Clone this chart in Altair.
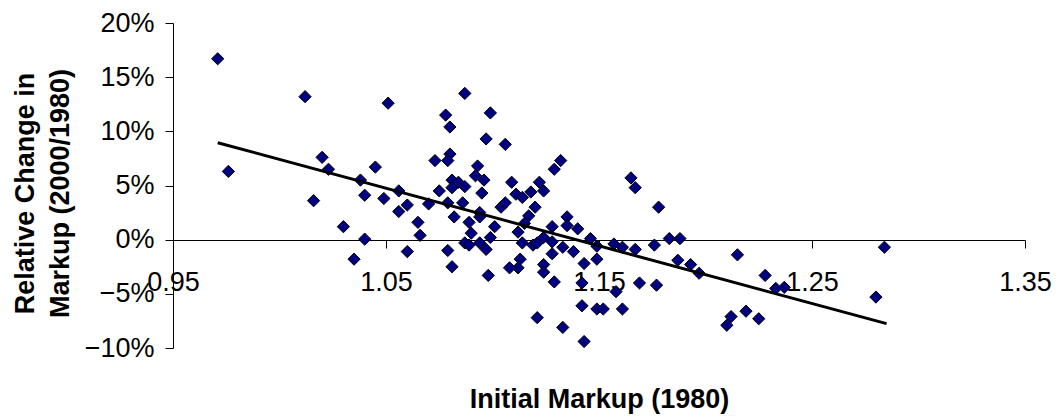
import altair as alt
import pandas as pd

# Initial markup (1980)
markup_1980 = [
    0.971, 0.976, 1.012, 1.020, 1.023, 1.016, 1.030, 1.035, 1.040, 1.040,
    1.038, 1.045, 1.049, 1.051, 1.056, 1.056, 1.060, 1.060, 1.065, 1.066,
    1.073, 1.080, 1.079, 1.075, 1.070, 1.079, 1.082, 1.081, 1.084, 1.081,
    1.087, 1.093, 1.092, 1.096, 1.095, 1.086, 1.079, 1.081, 1.089, 1.090,
    1.094, 1.094, 1.087, 1.089, 1.094, 1.097, 1.099, 1.101, 1.098, 1.104,
    1.106, 1.109, 1.111, 1.114, 1.118, 1.122, 1.124, 1.120, 1.117, 1.115,
    1.112, 1.114, 1.119, 1.121, 1.113, 1.112, 1.108, 1.124, 1.128, 1.128,
    1.129, 1.132, 1.135, 1.135, 1.140, 1.133, 1.128, 1.138, 1.124, 1.124,
    1.129, 1.143, 1.142, 1.142, 1.121, 1.133, 1.143, 1.146, 1.165, 1.167,
    1.178, 1.149, 1.157, 1.161, 1.167, 1.176, 1.183, 1.188, 1.187, 1.193,
    1.197, 1.149, 1.169, 1.177, 1.158, 1.149, 1.152, 1.161, 1.215, 1.228,
    1.233, 1.237, 1.212, 1.210, 1.219, 1.225, 1.284, 1.280, 1.099, 1.087,
    1.078, 1.080, 1.097, 1.106,
]

# Relative change in markup (2000/1980)
change_markup = [
    0.167, 0.063, 0.132, 0.076, 0.065, 0.036, 0.012, -0.018, 0.0005, 0.041,
    0.055, 0.067, 0.038, 0.126, 0.045, 0.026, 0.032, -0.011, 0.016, 0.004,
    0.073, 0.079, 0.073, 0.045, 0.033, 0.034, 0.021, 0.055, 0.053, 0.048,
    0.049, 0.068, 0.059, 0.055, 0.043, 0.034, -0.010, -0.025, 0.016, 0.006,
    0.021, 0.025, -0.003, -0.005, -0.003, -0.009, 0.002, 0.012, -0.033, 0.030,
    0.034, 0.053, 0.042, 0.039, 0.044, 0.053, 0.045, 0.030, 0.022, 0.015,
    0.007, -0.003, -0.005, -0.003, -0.018, -0.026, -0.026, 0.002, 0.012, -0.002,
    0.065, 0.073, 0.021, 0.013, 0.010, -0.007, -0.013, -0.011, -0.023, -0.030,
    -0.039, -0.022, -0.040, -0.061, -0.072, -0.081, -0.094, 0.001, 0.057, 0.048,
    0.030, -0.006, -0.004, -0.007, -0.009, -0.005, 0.001, 0.001, -0.019, -0.023,
    -0.031, -0.018, -0.040, -0.042, -0.048, -0.064, -0.064, -0.064, -0.014, -0.033,
    -0.045, -0.044, -0.071, -0.079, -0.066, -0.073, -0.007, -0.053, 0.117, 0.135,
    0.115, 0.104, 0.093, 0.088,
]

# Trend line end points
trend_x = [0.971, 1.285]
trend_y = [0.0895, -0.0775]

x_ticks = [0.95, 1.05, 1.15, 1.25, 1.35]
y_ticks = [-0.10, -0.05, 0.0, 0.05, 0.10, 0.15, 0.20]

pts = pd.DataFrame({"x": markup_1980, "y": change_markup})
trend = pd.DataFrame({"x": trend_x, "y": trend_y})

FONT = "Liberation Sans"

x_scale = alt.Scale(domain=[0.95, 1.35], nice=False, zero=False)
y_scale = alt.Scale(domain=[-0.10, 0.20], nice=False, zero=False)

x_axis = alt.Axis(
    values=x_ticks, format=".2f", title="Initial Markup (1980)",
    offset=-108, grid=False, domainColor="black", tickColor="black",
    tickSize=8, labelFontSize=27, labelFont=FONT, labelColor="black",
    labelBaseline="alphabetic", labelPadding=42, labelFlush=False,
    labelOverlap=False,
    titleFont=FONT, titleFontSize=27, titleFontWeight="bold",
    titleColor="black", titleBaseline="alphabetic", titleY=167,
)
y_axis = alt.Axis(
    values=y_ticks, format=".0%", title=["Relative Change in", "Markup (2000/1980)"],
    grid=False, domainColor="black", tickColor="black", tickSize=8,
    labelFontSize=27, labelFont=FONT, labelColor="black", labelPadding=11,
    labelFlush=False, labelOverlap=False,
    titleFont=FONT, titleFontSize=27, titleFontWeight="bold", titleColor="black",
    titleAngle=270, titleAlign="center", titleBaseline="middle",
    titleLineHeight=35, titleX=-148, titleY=170,
)

points = alt.Chart(pts).mark_point(
    shape="diamond", filled=True, fill="#000080", stroke="black",
    strokeWidth=1, size=150, opacity=1,
).encode(
    x=alt.X("x:Q", scale=x_scale, axis=x_axis),
    y=alt.Y("y:Q", scale=y_scale, axis=y_axis),
)

line = alt.Chart(trend).mark_line(color="black", strokeWidth=3).encode(
    x=alt.X("x:Q", scale=x_scale),
    y=alt.Y("y:Q", scale=y_scale),
)

chart = alt.layer(points, line).properties(
    width=852, height=325,
    autosize=alt.AutoSizeParams(type="none"),
    padding={"left": 165, "top": 15, "right": 28, "bottom": 70},
    background="white",
).configure_view(stroke=None)

chart.save("out.html", embed_options={"renderer": "svg", "actions": False})
